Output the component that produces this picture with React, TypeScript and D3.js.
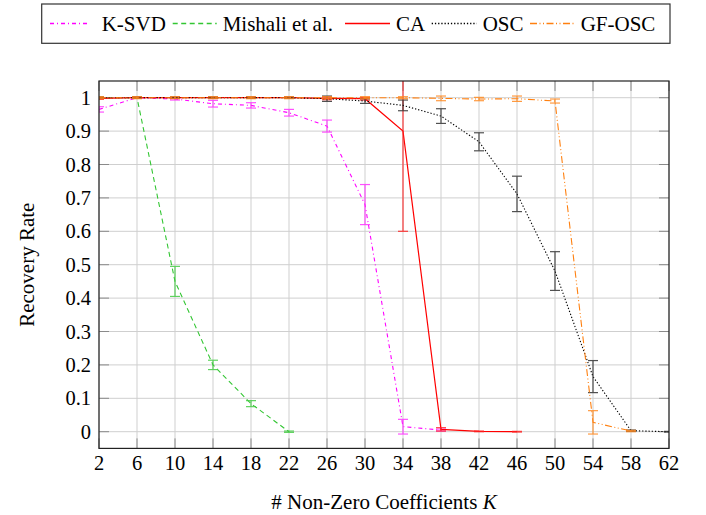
import React from "react";
import * as d3 from "d3";

const xTicks = [2, 6, 10, 14, 18, 22, 26, 30, 34, 38, 42, 46, 50, 54, 58, 62];
const yTicks = [0, 0.1, 0.2, 0.3, 0.4, 0.5, 0.6, 0.7, 0.8, 0.9, 1];

const ksvdK = [2, 6, 10, 14, 18, 22, 26, 30, 34, 38];
const ksvdVal = [0.965, 1.0, 0.996, 0.982, 0.977, 0.955, 0.915, 0.68, 0.015, 0.005];
const ksvdErr = [0.008, 0.002, 0.003, 0.01, 0.008, 0.01, 0.018, 0.06, 0.022, 0.003];

const mishaliK = [2, 6, 10, 14, 18, 22];
const mishaliVal = [1.0, 1.0, 0.45, 0.2, 0.084, 0.0];
const mishaliErr = [0.002, 0.002, 0.045, 0.014, 0.009, 0.002];

const caK = [2, 6, 10, 14, 18, 22, 26, 30, 34, 38, 42, 46];
const caVal = [0.998, 1.0, 1.0, 1.0, 1.0, 1.0, 0.998, 0.997, 0.9, 0.007, 0.001, 0.0];
const caErr = [0.003, 0.002, 0.002, 0.002, 0.002, 0.002, 0.004, 0.004, 0.3, 0.005, 0.001, 0.001];

const oscK = [2, 6, 10, 14, 18, 22, 26, 30, 34, 38, 42, 46, 50, 54, 58, 62];
const oscVal = [1.0, 1.0, 1.0, 1.0, 1.0, 1.0, 0.997, 0.99, 0.977, 0.945, 0.868, 0.712, 0.481, 0.165, 0.003, 0.0];
const oscErr = [0.002, 0.002, 0.002, 0.002, 0.002, 0.002, 0.008, 0.007, 0.016, 0.022, 0.027, 0.053, 0.058, 0.048, 0.002, 0.001];

const gfK = [2, 6, 10, 14, 18, 22, 26, 30, 34, 38, 42, 46, 50, 54, 58];
const gfVal = [1.0, 1.0, 1.0, 1.0, 1.0, 1.0, 1.0, 1.0, 1.0, 0.998, 0.996, 0.997, 0.99, 0.028, 0.002];
const gfErr = [0.003, 0.003, 0.003, 0.003, 0.003, 0.003, 0.003, 0.003, 0.003, 0.007, 0.005, 0.008, 0.006, 0.035, 0.002];

const seriesNames = ["K-SVD", "Mishali et al.", "CA", "OSC", "GF-OSC"];

const W = 706;
const H = 515;
const left = 99;
const right = 669;
const top = 81;
const bottom = 448.4;

const FONT = "Liberation Serif, Times New Roman, Times, serif";

const styles = [
  { color: "#ff00ff", dash: "4,3,1,3", width: 1.1, ecol: "#ff33ff" },
  { color: "#33c633", dash: "5,3.5", width: 1.1, ecol: "#44cc44" },
  { color: "#ff0000", dash: "", width: 1.2, ecol: "#ff2020" },
  { color: "#000000", dash: "1.3,1.9", width: 1.1, ecol: "#333333" },
  { color: "#ff8010", dash: "7,2.5,1,2.5,1,2.5", width: 1.1, ecol: "#ff8a20" },
];

const legendLayout = [
  { sx: 50, sw: 40, tx: 101.7 },
  { sx: 172.7, sw: 44, tx: 222.7 },
  { sx: 345, sw: 45, tx: 396 },
  { sx: 431.7, sw: 45, tx: 482.7 },
  { sx: 530, sw: 45, tx: 580.7 },
];

const textStyle: React.CSSProperties = { fontFamily: FONT, fontSize: "21px" };
const tickStyle: React.CSSProperties = { fontFamily: FONT, fontSize: "20.5px" };

export default function App() {
  const x = d3.scaleLinear().domain([2, 62]).range([left, right]);
  const y = d3.scaleLinear().domain([-0.05, 1.05]).range([bottom, top]);

  const data = [
    { k: ksvdK, v: ksvdVal, e: ksvdErr },
    { k: mishaliK, v: mishaliVal, e: mishaliErr },
    { k: caK, v: caVal, e: caErr },
    { k: oscK, v: oscVal, e: oscErr },
    { k: gfK, v: gfVal, e: gfErr },
  ];

  const line = d3
    .line<[number, number]>()
    .x((d) => x(d[0]))
    .y((d) => y(d[1]));

  return (
    <svg width={W} height={H} style={{ position: "absolute", left: 0, top: 0 }}>
      <rect x={0} y={0} width={W} height={H} fill="#fff" />
      <defs>
        <clipPath id="plotclip">
          <rect x={left} y={top} width={right - left} height={bottom - top} />
        </clipPath>
      </defs>
      {xTicks.map((t) => (
        <line key={"gx" + t} x1={x(t)} x2={x(t)} y1={top} y2={bottom} stroke="#cfcfcf" strokeWidth={1} />
      ))}
      {yTicks.map((t) => (
        <line key={"gy" + t} x1={left} x2={right} y1={y(t)} y2={y(t)} stroke="#cfcfcf" strokeWidth={1} />
      ))}
      {xTicks.map((t) => (
        <g key={"tx" + t}>
          <line x1={x(t)} x2={x(t)} y1={bottom} y2={bottom - 10} stroke="#8a8a8a" strokeWidth={1} />
          <line x1={x(t)} x2={x(t)} y1={top} y2={top + 10} stroke="#8a8a8a" strokeWidth={1} />
        </g>
      ))}
      {yTicks.map((t) => (
        <g key={"ty" + t}>
          <line x1={left} x2={left + 10} y1={y(t)} y2={y(t)} stroke="#8a8a8a" strokeWidth={1} />
          <line x1={right} x2={right - 10} y1={y(t)} y2={y(t)} stroke="#8a8a8a" strokeWidth={1} />
        </g>
      ))}
      <g clipPath="url(#plotclip)">
        {data.map((s, i) => {
          const st = styles[i];
          const pts = s.k.map((k, j) => [k, s.v[j]] as [number, number]);
          return (
            <g key={"s" + i}>
              <path
                d={line(pts) || ""}
                fill="none"
                stroke={st.color}
                strokeWidth={st.width}
                strokeDasharray={st.dash || undefined}
              />
              {s.k.map((k, j) => {
                const cx = x(k);
                const y1 = y(s.v[j] + s.e[j]);
                const y2 = y(s.v[j] - s.e[j]);
                return (
                  <g key={"e" + j} stroke={st.ecol} strokeWidth={1.2} opacity={0.85}>
                    <line x1={cx} x2={cx} y1={y1} y2={y2} />
                    <line x1={cx - 5} x2={cx + 5} y1={y1} y2={y1} />
                    <line x1={cx - 5} x2={cx + 5} y1={y2} y2={y2} />
                  </g>
                );
              })}
            </g>
          );
        })}
      </g>
      <rect x={left} y={top} width={right - left} height={bottom - top} fill="none" stroke="#222" strokeWidth={1.2} />
      {xTicks.map((t) => (
        <text key={"lx" + t} x={x(t)} y={470} textAnchor="middle" style={tickStyle} fill="#000">
          {t}
        </text>
      ))}
      {yTicks.map((t) => (
        <text key={"ly" + t} x={91} y={y(t) + 7} textAnchor="end" style={tickStyle} fill="#000">
          {String(t)}
        </text>
      ))}
      <text x={(left + right) / 2} y={509} textAnchor="middle" style={textStyle} fill="#000">
        # Non-Zero Coefficients <tspan fontStyle="italic">K</tspan>
      </text>
      <text
        transform={`translate(33.5, ${(top + bottom) / 2}) rotate(-90)`}
        textAnchor="middle"
        style={textStyle}
        fill="#000"
      >
        Recovery Rate
      </text>
      <rect x={41.7} y={4} width={628.3} height={39.3} fill="#fff" stroke="#333" strokeWidth={1.2} />
      {seriesNames.map((name, i) => {
        const st = styles[i];
        const L = legendLayout[i];
        return (
          <g key={"lg" + i}>
            <path
              d={`M${L.sx},23.5H${L.sx + L.sw}`}
              style={{ stroke: st.color, strokeWidth: 1.3, fill: "none", strokeDasharray: st.dash || "none" }}
            />
            <text x={L.tx} y={30.5} style={textStyle} fill="#000">
              {name}
            </text>
          </g>
        );
      })}
    </svg>
  );
}
